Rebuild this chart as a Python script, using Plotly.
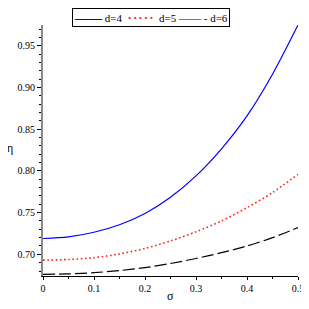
import plotly.graph_objects as go

sigma = [0.0, 0.05, 0.1, 0.15, 0.2, 0.25, 0.3, 0.35, 0.4, 0.45, 0.5]
eta_d4 = [0.719, 0.721, 0.7265, 0.7355, 0.749, 0.7685, 0.794, 0.8265, 0.866, 0.916, 0.975]
eta_d5 = [0.693, 0.6938, 0.696, 0.7005, 0.707, 0.716, 0.727, 0.740, 0.756, 0.774, 0.796]
eta_d6 = [0.676, 0.6765, 0.678, 0.6805, 0.684, 0.689, 0.695, 0.702, 0.710, 0.720, 0.732]
names = ["d=4", "d=5", "d=6"]
colors = ["#0000ff", "#ff2020", "#000000"]

font = "Liberation Serif"
fig = go.Figure()
fig.add_trace(go.Scatter(x=sigma, y=eta_d4, name=names[0], mode="lines", showlegend=False,
                         line=dict(color=colors[0], width=1.2, shape="spline", smoothing=0.8)))
fig.add_trace(go.Scatter(x=sigma, y=eta_d5, name=names[1], mode="lines", showlegend=False,
                         line=dict(color=colors[1], width=1.6, dash="1.6px,2.6px",
                                   shape="spline", smoothing=0.8)))
fig.add_trace(go.Scatter(x=sigma, y=eta_d6, name=names[2], mode="lines", showlegend=False,
                         line=dict(color=colors[2], width=1.2, dash="12px,4px",
                                   shape="spline", smoothing=0.8)))

nb = "\u00a0"
hair = "\u200a"
legend_text = (
    f'<span style="color:{colors[0]};font-size:13.5px;font-weight:bold">——</span>{nb}{names[0]}{nb}{nb}'
    f'<span style="color:{colors[1]};font-size:13px;font-weight:bold">'
    + hair.join(["·"] * 5) + f'</span>{nb}{nb}{names[1]}{nb}'
    f'<span style="color:{colors[2]};font-weight:bold">——</span>{nb}-{nb}{names[2]}'
)

# page body has an 8px margin: figure is sized/offset to land on the 309x309 view
fig.update_layout(
    width=301, height=301,
    margin=dict(l=35, r=11, t=17, b=33, autoexpand=False),
    paper_bgcolor="white", plot_bgcolor="white",
    font=dict(family=font, size=10, color="black"),
    showlegend=False,
    xaxis=dict(range=[0, 0.5], tickvals=[0, 0.1, 0.2, 0.3, 0.4, 0.5],
               ticktext=["0", "0.1", "0.2", "0.3", "0.4", "0.5"], automargin=False,
               showgrid=False, zeroline=False, showline=True, linecolor="black", linewidth=1,
               ticks="outside", ticklen=3, tickcolor="black", ticklabeloverflow="allow",
               minor=dict(dtick=0.05, ticks="outside", ticklen=2, tickcolor="black"),
               tickfont=dict(size=10)),
    yaxis=dict(range=[0.674, 0.975], tickvals=[0.70, 0.75, 0.80, 0.85, 0.90, 0.95],
               ticktext=["0.70", "0.75", "0.80", "0.85", "0.90", "0.95"], automargin=False,
               showgrid=False, zeroline=False, showline=True, linecolor="#888888", linewidth=2,
               ticks="outside", ticklen=4, tickcolor="black",
               minor=dict(dtick=0.01, ticks="outside", ticklen=2, tickcolor="black"),
               tickfont=dict(size=10)),
    annotations=[
        dict(text=legend_text, x=0.4235, y=1.0677, xref="paper", yref="paper",
             showarrow=False, xanchor="center", yanchor="top",
             bordercolor="black", borderwidth=1, borderpad=1, bgcolor="white",
             font=dict(family=font, size=11, color="black")),
        dict(text="σ", x=0.5, y=-0.08, xref="paper", yref="paper", showarrow=False,
             xanchor="center", yanchor="middle", font=dict(family=font, size=12)),
        dict(text="η", x=-0.129, y=0.51, xref="paper", yref="paper", showarrow=False,
             xanchor="center", yanchor="middle", font=dict(family=font, size=12)),
    ],
)
fig.write_html("out.html")
